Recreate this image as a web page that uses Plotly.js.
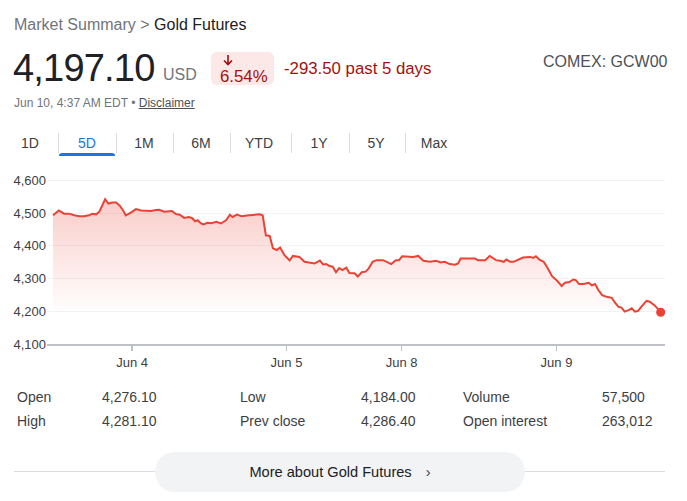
<!DOCTYPE html>
<html>
<head>
<meta charset="utf-8">
<script src="https://cdn.plot.ly/plotly-3.0.1.min.js"></script>
<style>
  html, body { margin:0; padding:0; background:#fff; }
  body { width:687px; height:501px; position:relative; overflow:hidden; font-family: Arial, "Liberation Sans", sans-serif; }
  .abs { position:absolute; white-space:nowrap; }
  .tab { position:absolute; top:133px; height:20px; line-height:20px; font-size:14px; color:#3c4043; text-align:center; transform:translateX(-50%); }
  .sep { position:absolute; top:133px; width:1px; height:20px; background:#dadce0; }
  .lbl { position:absolute; font-size:14px; color:#3c4043; line-height:16px; }
</style>
</head>
<body>
<div class="abs" style="left:14px; top:16px; font-size:16px; line-height:18px;"><span style="color:#70757a">Market Summary &gt; </span><span style="color:#202124">Gold Futures</span></div>

<div class="abs" style="left:13px; top:48px; font-size:38px; line-height:40px; color:#202124; letter-spacing:-0.8px;">4,197.10</div>
<div class="abs" style="left:163px; top:66px; font-size:16px; line-height:18px; color:#70757a;">USD</div>

<div class="abs" style="left:211px; top:52px; width:63px; height:33px; background:#fce8e6; border-radius:6px;"></div>
<svg class="abs" style="left:221px; top:53px;" width="14" height="14" viewBox="0 0 14 14">
  <path d="M7 2 L7 11 M3 7.5 L7 11.5 L11 7.5" stroke="#a50e0e" stroke-width="1.6" fill="none"/>
</svg>
<div class="abs" style="left:220px; top:68px; font-size:16.8px; line-height:18px; color:#a50e0e;">6.54%</div>
<div class="abs" style="left:284px; top:60px; font-size:16.8px; line-height:18px; color:#a50e0e;">-293.50 past 5 days</div>
<div class="abs" style="left:543px; top:53px; font-size:16px; line-height:18px; color:#4d5156;">COMEX: GCW00</div>

<div class="abs" style="left:14px; top:96px; font-size:12px; line-height:14px; color:#70757a;">Jun 10, 4:37 AM EDT • <span style="color:#4d5156; text-decoration:underline;">Disclaimer</span></div>

<div id="tabs"></div>

<div id="chart" class="abs" style="left:0; top:170px; width:687px; height:200px;"></div>

<div id="stats"></div>

<div class="abs" style="left:14px; top:471px; width:651px; height:1px; background:#dadce0;"></div>
<div class="abs" style="left:155px; top:452px; width:370px; height:40px; background:#f1f3f4; border-radius:20px; text-align:center; line-height:40px; font-size:14.6px; color:#202124;">More about Gold Futures<span style="display:inline-block; margin-left:14px; color:#3c4043;">&#8250;</span></div>

<script>
// ---- data ----
const hours = [0,0.9,1.7,2.5,3.3,4.1,4.8,5.6,6.1,6.7,7.2,7.7,8.1,8.6,9.2,9.8,10.4,10.9,11.3,12.1,12.9,13.7,14.4,15.2,16.0,16.5,17.3,18.1,18.5,19.1,19.7,20.4,21.1,21.6,22.1,22.5,23.0,23.4,24.0,24.6,25.4,26.1,26.9,27.5,27.9,28.6,29.3,30.5,31.5,32.1,32.6,33.1,33.7,34.2,34.8,35.3,36.0,36.8,37.3,38.3,39.1,39.9,40.7,41.5,42.0,42.5,43.0,43.5,44.0,44.5,45.0,45.6,46.1,46.9,47.4,48.0,48.6,49.1,49.7,50.3,51.3,51.9,52.6,53.3,53.8,54.3,55.2,56.0,56.8,57.6,58.6,59.6,60.3,60.9,61.7,62.5,63.0,63.4,64.3,65.6,66.1,67.2,67.9,68.9,69.5,70.1,70.5,71.1,71.6,72.4,73.1,74.2,74.7,75.1,75.6,76.3,76.8,77.6,78.4,79.1,79.6,80.3,80.9,81.3,81.8,82.5,83.3,83.8,84.3,84.8,85.4,86.1,86.9,87.4,87.9,88.4,88.9,89.6,90.0,90.5,91.0,91.5,92.3,92.8,93.6,94.5];
const prices = [4493,4508,4498,4498,4493,4490,4490,4493,4498,4496,4504,4523,4542,4529,4532,4532,4522,4508,4493,4501,4512,4508,4506,4506,4509,4510,4504,4505,4506,4497,4495,4485,4488,4485,4475,4478,4468,4465,4470,4469,4473,4468,4478,4495,4488,4495,4490,4493,4494,4496,4493,4432,4430,4392,4387,4395,4371,4355,4369,4366,4351,4349,4346,4355,4343,4344,4338,4336,4319,4332,4326,4333,4317,4316,4306,4319,4321,4331,4351,4356,4356,4351,4344,4356,4356,4368,4368,4366,4369,4354,4351,4354,4349,4351,4344,4342,4346,4361,4361,4361,4356,4356,4369,4356,4354,4351,4358,4351,4351,4358,4364,4366,4363,4368,4358,4351,4336,4307,4293,4277,4287,4289,4297,4295,4283,4283,4287,4279,4283,4265,4249,4244,4241,4226,4214,4211,4199,4204,4209,4199,4201,4214,4232,4229,4217,4197.1];
const tickHours = [12.3, 36.3, 54.2, 78.3];
const tickLabels = ['Jun 4', 'Jun 5', 'Jun 8', 'Jun 9'];
const yTicks = [4100, 4200, 4300, 4400, 4500, 4600];

const tabLabels = ['1D','5D','1M','6M','YTD','1Y','5Y','Max'];
const statLabels = [['Open','Low','Volume'],['High','Prev close','Open interest']];
const statValues = [['4,276.10','4,184.00','57,500'],['4,281.10','4,286.40','263,012']];

// ---- tabs ----
const tabCenters = [30, 87, 144, 201, 259, 319, 376, 434];
const sepX = [58, 116, 173, 230, 291, 349, 405];
const tabsEl = document.getElementById('tabs');
tabLabels.forEach((t, i) => {
  const d = document.createElement('div');
  d.className = 'tab';
  d.style.left = tabCenters[i] + 'px';
  d.textContent = t;
  if (t === '5D') d.style.color = '#1a73e8';
  tabsEl.appendChild(d);
});
sepX.forEach(x => {
  const s = document.createElement('div');
  s.className = 'sep';
  s.style.left = x + 'px';
  tabsEl.appendChild(s);
});
const ul = document.createElement('div');
ul.className = 'abs';
ul.style.cssText = 'left:59px; top:153px; width:56px; height:3px; background:#1a73e8; border-radius:3px 3px 0 0;';
tabsEl.appendChild(ul);

// ---- stats ----
const statsEl = document.getElementById('stats');
const labelX = [17, 240, 463];
const valueX = [102, 361, 602];
const rowY = [389, 413];
for (let r = 0; r < 2; r++) {
  for (let c = 0; c < 3; c++) {
    const a = document.createElement('div');
    a.className = 'lbl';
    a.style.left = labelX[c] + 'px'; a.style.top = rowY[r] + 'px';
    a.textContent = statLabels[r][c];
    statsEl.appendChild(a);
    const b = document.createElement('div');
    b.className = 'lbl';
    b.style.left = valueX[c] + 'px'; b.style.top = rowY[r] + 'px';
    b.textContent = statValues[r][c];
    statsEl.appendChild(b);
  }
}

// ---- chart ----
const red = '#ea4335';
const yMin = 4100, yMax = 4610;
const traces = [
  {
    x: hours, y: prices, type: 'scatter', mode: 'lines',
    line: { color: red, width: 2 },
    fill: 'tozeroy',
    fillgradient: {
      type: 'vertical', start: 4190, stop: 4545,
      colorscale: [[0, 'rgba(234,67,53,0)'], [1, 'rgba(234,67,53,0.27)']]
    },
    hoverinfo: 'skip'
  },
  {
    x: [hours[hours.length - 1]], y: [prices[prices.length - 1]],
    type: 'scatter', mode: 'markers',
    marker: { color: red, size: 9 },
    hoverinfo: 'skip'
  }
];
const layout = {
  width: 687, height: 200,
  margin: { l: 47, r: 22, t: 7, b: 26 },
  paper_bgcolor: '#fff', plot_bgcolor: '#fff',
  showlegend: false,
  font: { family: 'Arial, "Liberation Sans", sans-serif', size: 13, color: '#3c4043' },
  xaxis: {
    range: [-0.94, 95.17],
    tickmode: 'array', tickvals: tickHours, ticktext: tickLabels,
    showgrid: false, zeroline: false,
    showline: true, linecolor: '#bdc1c6', linewidth: 2,
    ticks: 'outside', ticklen: 5, tickwidth: 1.5, tickcolor: '#bdc1c6',
    tickfont: { size: 13, color: '#3c4043' },
    fixedrange: true
  },
  yaxis: {
    range: [yMin, yMax],
    tickmode: 'array', tickvals: yTicks, tickformat: ',',
    showgrid: true, gridcolor: '#f1f3f4', gridwidth: 1,
    zeroline: false, showline: false, ticks: '',
    tickfont: { size: 13, color: '#3c4043' },
    fixedrange: true
  }
};
Plotly.newPlot('chart', traces, layout, { staticPlot: true, displayModeBar: false });
</script>
</body>
</html>
